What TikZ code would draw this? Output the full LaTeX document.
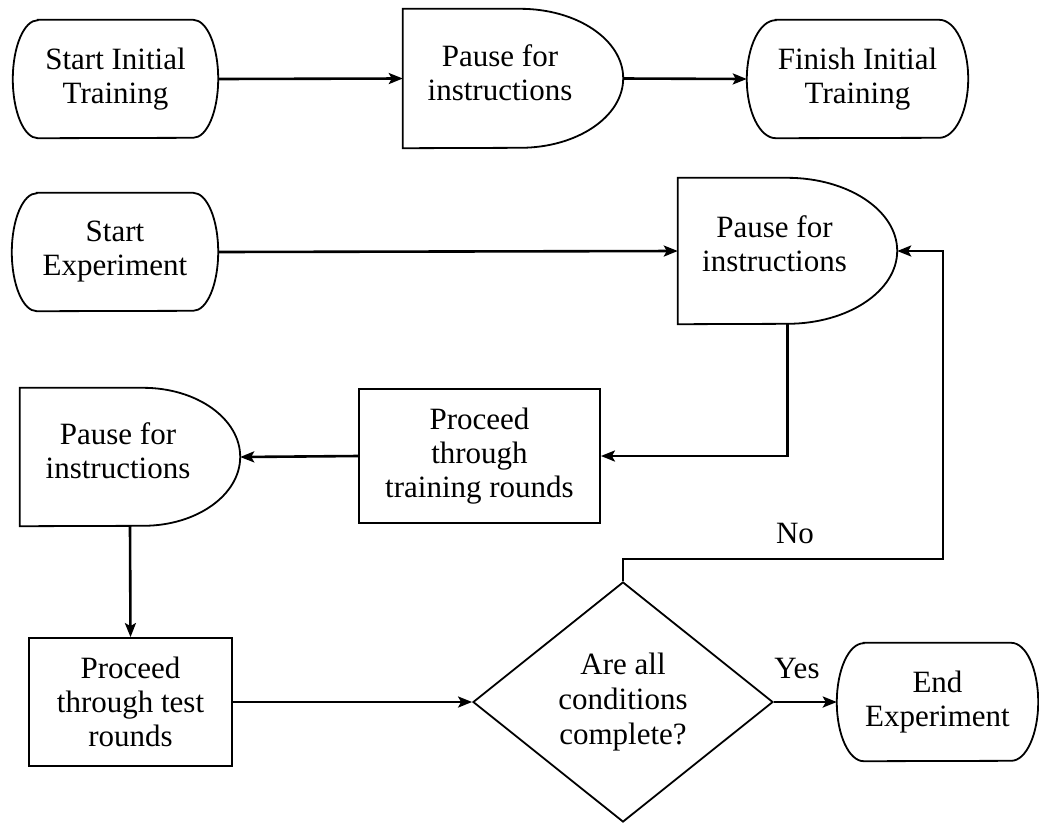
\documentclass[tikz,border=0pt]{standalone}
\usepackage{fontspec}
\setmainfont{Liberation Serif}
\usetikzlibrary{arrows.meta,shapes.geometric}
\tikzset{
  box/.style={rectangle, draw=none, inner sep=0pt},
  outline/.style={draw=black, line width=1.8pt},
  rectbox/.style={rectangle, draw=black, line width=1.8pt, inner sep=0pt, align=center, font=\fontsize{31}{34}\selectfont},
  txt/.style={align=center, inner sep=0pt, font=\fontsize{31}{34}\selectfont},
  decision/.style={diamond, draw=black, line width=1.8pt, inner sep=0pt, align=center, font=\fontsize{31}{35}\selectfont},
  conn/.style={draw=black, line width=2.6pt, -{Stealth[length=14pt,width=11pt,inset=3pt]}},
}
\newcommand\termpath[3]{%
  \path[outline] ([xshift=#2]#1.north west) -- ([xshift=-#2]#1.north east)
    arc[start angle=90,end angle=-90,x radius=#2,y radius=#3]
    -- ([xshift=#2]#1.south west)
    arc[start angle=270,end angle=90,x radius=#2,y radius=#3] -- cycle;}
\newcommand\delaypath[3]{%
  \path[outline] (#1.north west) -- ([xshift=-#2]#1.north east)
    arc[start angle=90,end angle=-90,x radius=#2,y radius=#3]
    -- (#1.south west) -- cycle;}
\begin{document}
\begin{tikzpicture}[x=1pt,y=1pt]
\useasboundingbox (0,0) rectangle (1039,-823);
\fill[white] (0,0) rectangle (1039,-823);

% top row
\node[box, minimum width=205pt, minimum height=118pt] (t1) at (115.5,-79) {};
\termpath{t1}{25pt}{59pt}
\node[txt] (t1t) at (t1.center) {Start Initial\\Training};

\node[box, minimum width=220pt, minimum height=139pt] (p1) at (513,-78.5) {};
\delaypath{p1}{103pt}{69.5pt}
\node[txt] (p1t) at ([shift={(-13pt,6pt)}]p1.center) {Pause for\\instructions};

\node[box, minimum width=221pt, minimum height=118pt] (t2) at (857.5,-79) {};
\termpath{t2}{29pt}{59pt}
\node[txt] (t2t) at (t2.center) {Finish Initial\\Training};

% second row
\node[box, minimum width=206pt, minimum height=118pt] (s2) at (115,-252) {};
\termpath{s2}{25pt}{59pt}
\node[txt] (s2t) at (s2.center) {Start\\Experiment};

\node[box, minimum width=219pt, minimum height=146pt] (p2) at (787.5,-251) {};
\delaypath{p2}{110pt}{73pt}
\node[txt] (p2t) at ([shift={(-13pt,7pt)}]p2.center) {Pause for\\instructions};

% third row
\node[box, minimum width=220pt, minimum height=138pt] (p3) at (130,-457) {};
\delaypath{p3}{97pt}{69pt}
\node[txt] (p3t) at ([shift={(-12pt,6pt)}]p3.center) {Pause for\\instructions};

\node[rectbox, minimum width=241pt, minimum height=134pt] (tr) at (479.5,-456) {Proceed\\through\\training rounds};

% fourth row
\node[rectbox, minimum width=203pt, minimum height=128pt] (te) at (130.5,-702) {Proceed\\through test\\rounds};

\node[decision, minimum width=300pt, minimum height=240pt] (dia) at (623,-702) {Are all\\conditions\\complete?};

\node[box, minimum width=201pt, minimum height=118pt] (en) at (937.5,-702) {};
\termpath{en}{27pt}{59pt}
\node[txt] (ent) at (en.center) {End\\Experiment};

% labels
\node[txt] (yes) at (797,-668) {Yes};
\node[txt] (no) at (795,-533) {No};
\coordinate (fb) at (943,-559);

% connectors
\draw[conn] (t1.east) -- (p1.west);
\draw[conn] (p1.east) -- (t2.west);
\draw[conn] (s2.east) -- (p2.west);
\draw[conn] (p2.south) |- (tr.east);
\draw[conn] (tr.west) -- (p3.east);
\draw[conn] (p3.south) -- (te.north);
\draw[conn] (te.east) -- (dia.west);
\draw[conn] (dia.east) -- (en.west);
\draw[conn] (dia.north) |- (fb) |- (p2.east);
\end{tikzpicture}
\end{document}
